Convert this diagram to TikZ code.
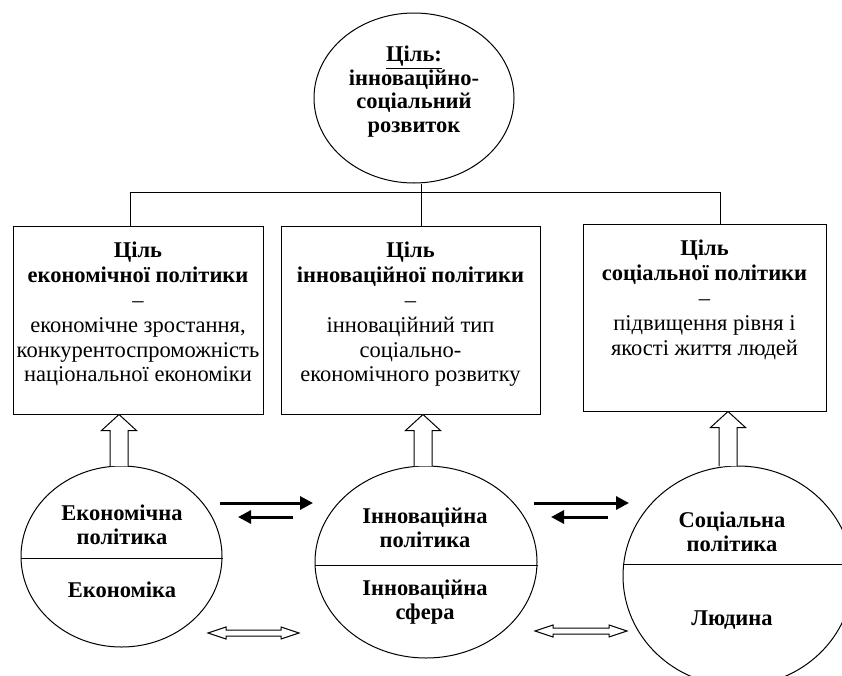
\documentclass[tikz,border=0pt]{standalone}
\usepackage{fontspec}
\setmainfont{Liberation Serif}
\usetikzlibrary{shapes.geometric,arrows.meta,calc}

% hollow arrows: foot, tip
\newcommand{\hollowup}[2]{%
  \draw[hollow] let \p1=(#1), \p2=(#2) in
    (\x1-9pt,\y1) -- (\x1-9pt,\y2-16pt) -- (\x1-17.5pt,\y2-16pt) -- (\x1,\y2)
    -- (\x1+17.5pt,\y2-16pt) -- (\x1+9pt,\y2-16pt) -- (\x1+9pt,\y1);}
\newcommand{\hollowboth}[2]{%
  \draw[hollow] let \p1=(#1), \p2=(#2) in
    (\x1,\y1) -- (\x1+18pt,\y1+6pt) -- (\x1+18pt,\y1+3pt) -- (\x2-18pt,\y1+3pt)
    -- (\x2-18pt,\y1+6pt) -- (\x2,\y1) -- (\x2-18pt,\y1-6pt) -- (\x2-18pt,\y1-3pt)
    -- (\x1+18pt,\y1-3pt) -- (\x1+18pt,\y1-6pt) -- cycle;}

\tikzset{
  goalbox/.style={draw, rectangle, line width=1pt, inner sep=0pt},
  goaltext/.style={anchor=north, align=center, inner sep=0pt, font=\fontsize{22.5}{24.8}\selectfont},
  sphere/.style={draw, ellipse, line width=1pt, inner sep=0pt},
  spheretext/.style={align=center, inner sep=0pt, font=\fontsize{22.5}{24}\selectfont\bfseries},
  link/.style={line width=1pt},
  flow/.style={line width=3pt, -{Triangle[length=13pt,width=13pt]}},
  hollow/.style={line width=1pt, fill=white},
}

\begin{document}
\begin{tikzpicture}[x=1pt,y=-1pt]
\useasboundingbox (0,0) rectangle (842,675);

% Головна ціль
\node[sphere, minimum width=200pt, minimum height=170pt] (goal) at (414,98) {};
\node[goaltext, font=\fontsize{22.5}{23.5}\selectfont\bfseries] (goaltxt) at (414,46)
  {\underline{Ціль:}\\інноваційно-\\соціальний\\розвиток};

% Цілі політик
\node[goalbox, minimum width=250pt, minimum height=188pt] (ecobox) at (138,320) {};
\node[goalbox, minimum width=259pt, minimum height=188pt] (innbox) at (410.5,320) {};
\node[goalbox, minimum width=243pt, minimum height=187pt] (socbox) at (704.5,317.5) {};

\node[goaltext] (ecotxt) at (138,242)
  {\textbf{Ціль}\\\textbf{економічної політики}\\–\\економічне зростання,\\конкурентоспроможність\\національної економіки};
\node[goaltext] (inntxt) at (410.5,242)
  {\textbf{Ціль}\\\textbf{інноваційної політики}\\–\\інноваційний тип\\соціально-\\економічного розвитку};
\node[goaltext] (soctxt) at (704.5,240)
  {\textbf{Ціль}\\\textbf{соціальної політики}\\–\\підвищення рівня і\\якості життя людей};

% Лінії дерева
\coordinate (busL) at (130,192);
\coordinate (bus) at (421,192);
\coordinate (busR) at (720,192);
\draw[link] (busL |- ecobox.north) -- (busL) -- (busR) -- (busR |- socbox.north);
\draw[link] (goal.south -| bus) -- (bus |- innbox.north);

% Сфери
\node[sphere, minimum width=201pt, minimum height=181pt] (eco) at (121.5,556.5) {};
\node[sphere, minimum width=222pt, minimum height=192pt] (inn) at (426,562) {};
\node[sphere, minimum width=230pt, minimum height=220pt] (soc) at (738,576) {};
\draw[link] ([yshift=-1.5pt]eco.west) -- ([yshift=-1.5pt]eco.east);
\draw[link] ([yshift=-3pt]inn.west) -- ([yshift=-3pt]inn.east);
\draw[link] ([yshift=12pt]soc.west) -- ([yshift=12pt]soc.east);

\node[spheretext] (ecopol) at (122,525) {Економічна\\політика};
\node[spheretext] (ecolow) at (122,590) {Економіка};
\node[spheretext] (innpol) at (425,527.5) {Інноваційна\\політика};
\node[spheretext] (innlow) at (425,602) {Інноваційна\\сфера};
\node[spheretext] (socpol) at (732,531.5) {Соціальна\\політика};
\node[spheretext] (soclow) at (732,620) {Людина};

% Стрілки вгору
\coordinate (ecofoot) at (119,466);
\coordinate (innfoot) at (423,466);
\coordinate (socfoot) at (728,466);
\hollowup{ecofoot}{ecofoot |- ecobox.south}
\hollowup{innfoot}{innfoot |- innbox.south}
\hollowup{socfoot}{socfoot |- socbox.south}

% Взаємодія політик
\coordinate (f1a) at (220,503); \coordinate (f1b) at (313,503);
\coordinate (b1a) at (293,517); \coordinate (b1b) at (238,517);
\coordinate (f2a) at (534,503); \coordinate (f2b) at (629,503);
\coordinate (b2a) at (608,517); \coordinate (b2b) at (551,517);
\draw[flow] (f1a) -- (f1b);
\draw[flow] (b1a) -- (b1b);
\draw[flow] (f2a) -- (f2b);
\draw[flow] (b2a) -- (b2b);

% Взаємодія сфер
\coordinate (d1a) at (208,633); \coordinate (d1b) at (299,633);
\coordinate (d2a) at (535,631); \coordinate (d2b) at (627,631);
\hollowboth{d1a}{d1b}
\hollowboth{d2a}{d2b}

\end{tikzpicture}
\end{document}
